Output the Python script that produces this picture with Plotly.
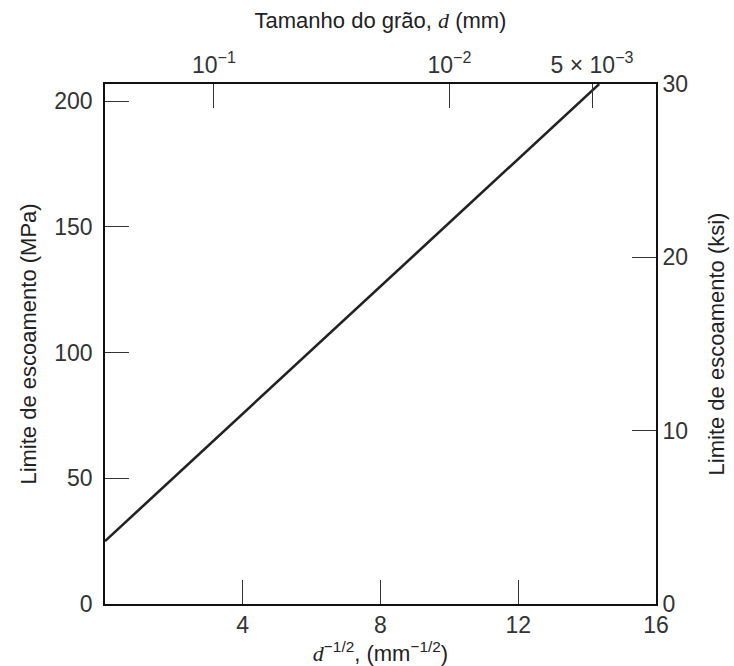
import plotly.graph_objects as go

# Hall-Petch line: yield strength vs d^-1/2
d_inv_sqrt = [0.0, 14.35]          # mm^-1/2
sigma_mpa = [25.0, 206.8]          # MPa

# bottom axis ticks
x_ticks = [4, 8, 12, 16]
# left axis ticks (MPa)
y_ticks = [0, 50, 100, 150, 200]
# right axis ticks (ksi)
ksi_ticks = [0, 10, 20, 30]
# top axis: grain size d (mm) and its labels
d_top = [0.1, 0.01, 0.005]
d_top_labels = ["10<sup>\u22121</sup>", "10<sup>\u22122</sup>", "5 \u00d7 10<sup>\u22123</sup>"]

MPA_PER_KSI = 6.895
y_max_ksi = 30
y_max_mpa = y_max_ksi * MPA_PER_KSI

font_main = dict(family="Liberation Sans, Arial, sans-serif", size=23, color="#333")
font_title = dict(family="Liberation Sans, Arial, sans-serif", size=22, color="#222")

fig = go.Figure()
fig.add_trace(go.Scatter(
    x=d_inv_sqrt, y=sigma_mpa, mode="lines",
    line=dict(color="#222", width=2.6), showlegend=False, hoverinfo="skip",
))
# invisible traces to activate the secondary axes
fig.add_trace(go.Scatter(x=[None], y=[None], xaxis="x2", yaxis="y", showlegend=False))
fig.add_trace(go.Scatter(x=[None], y=[None], xaxis="x", yaxis="y2", showlegend=False))

axis_common = dict(
    showgrid=False, zeroline=False, showline=True, linecolor="#111", linewidth=1.6,
    ticks="inside", ticklen=24, tickcolor="#333", tickwidth=1.2,
    tickfont=font_main, automargin=False,
)

fig.update_layout(
    width=734, height=666,
    margin=dict(l=105, r=78, t=84, b=62),
    paper_bgcolor="white", plot_bgcolor="white",
    font=font_main,
    xaxis=dict(
        range=[0, 16], tickvals=x_ticks, ticktext=[str(v) for v in x_ticks],
        title=dict(text="<i><span style='font-family:Liberation Serif'>d</span></i><sup>\u22121/2</sup>, (mm<sup>\u22121/2</sup>)",
                   font=font_title, standoff=0),
        **axis_common,
    ),
    xaxis2=dict(
        range=[0, 16], overlaying="x", side="top",
        tickvals=[v ** -0.5 for v in d_top], ticktext=d_top_labels,
        title=dict(text="Tamanho do gr\u00e3o, <i><span style='font-family:Liberation Serif'>d</span></i> (mm)",
                   font=font_title, standoff=14),
        **axis_common,
    ),
    yaxis=dict(
        range=[0, y_max_mpa], tickvals=y_ticks, ticktext=[str(v) for v in y_ticks],
        ticklabelstandoff=6,
        title=dict(text="Limite de escoamento (MPa)", font=font_title, standoff=12),
        **axis_common,
    ),
    yaxis2=dict(
        range=[0, y_max_ksi], overlaying="y", side="right",
        tickvals=ksi_ticks, ticktext=[str(v) for v in ksi_ticks],
        title=dict(text="Limite de escoamento (ksi)", font=font_title, standoff=22),
        **axis_common,
    ),
)

fig.write_html("out.html")
